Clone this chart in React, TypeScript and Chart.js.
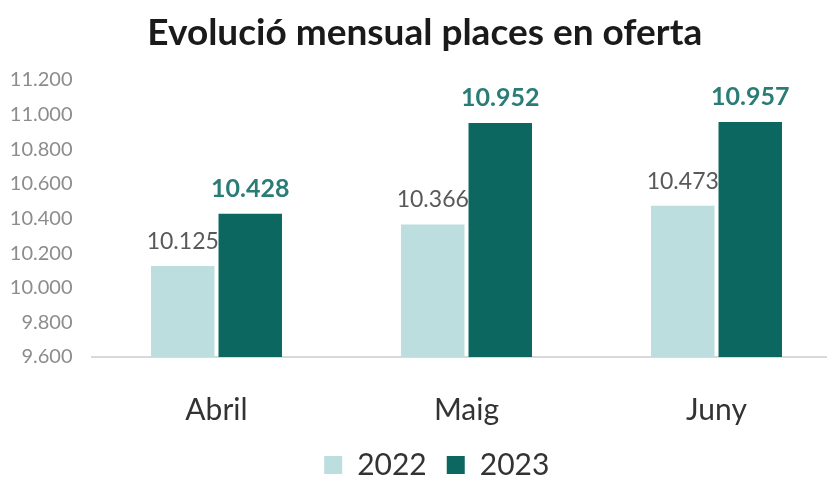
import React, { useEffect, useRef } from "react";
import { Chart, registerables } from "chart.js";

Chart.register(...registerables);

const TITLE = "Evolució mensual places en oferta";
const categories = ["Abril", "Maig", "Juny"];
const seriesNames = ["2022", "2023"];
const values2022 = [10125, 10366, 10473];
const values2023 = [10428, 10952, 10957];
const yMin = 9600;
const yMax = 11200;
const yStep = 200;

const COLOR_2022 = "#bcdedf";
const COLOR_2023 = "#0b675f";
const FONT = "Lato";

const fmt = (n: number) => Math.round(n).toString().replace(/\B(?=(\d{3})+(?!\d))/g, ".");

const dataLabels = {
  id: "dataLabels",
  afterDatasetsDraw(chart: any) {
    const ctx = chart.ctx;
    chart.data.datasets.forEach((ds: any, di: number) => {
      const meta = chart.getDatasetMeta(di);
      meta.data.forEach((bar: any, i: number) => {
        ctx.save();
        ctx.textAlign = "center";
        ctx.textBaseline = "alphabetic";
        if (di === 0) {
          ctx.font = `normal 23px ${FONT}`;
          ctx.fillStyle = "#595959";
        } else {
          ctx.font = `bold 25px ${FONT}`;
          ctx.fillStyle = "#2a7c76";
        }
        ctx.fillText(fmt(ds.data[i]), bar.x, bar.y - 17);
        ctx.restore();
      });
    });
  },
};

const shiftLegend = {
  id: "shiftLegend",
  afterLayout(chart: any) {
    const lg = chart.legend;
    if (lg) {
      lg.left += 12;
      lg.right += 12;
    }
  },
};

export default function App() {
  const ref = useRef<HTMLCanvasElement>(null);
  useEffect(() => {
    if (!ref.current) return;
    const chart = new Chart(ref.current, {
      type: "bar",
      data: {
        labels: categories,
        datasets: [
          {
            label: seriesNames[0],
            data: values2022,
            backgroundColor: COLOR_2022,
            categoryPercentage: 0.54,
            barPercentage: 0.94,
          },
          {
            label: seriesNames[1],
            data: values2023,
            backgroundColor: COLOR_2023,
            categoryPercentage: 0.54,
            barPercentage: 0.94,
          },
        ],
      },
      options: {
        animation: false,
        responsive: false,
        maintainAspectRatio: false,
        layout: { padding: { left: 8, right: 16.5, top: 0, bottom: -12 } },
        plugins: {
          title: {
            display: true,
            text: TITLE,
            color: "#1a1a1a",
            font: { family: FONT, size: 37, weight: "bold" },
            padding: { top: 11, bottom: 24.6 },
          },
          legend: {
            position: "bottom",
            labels: {
              color: "#333333",
              font: { family: FONT, size: 30 },
              boxWidth: 18,
              boxHeight: 18,
              padding: 20,
            },
          },
          tooltip: { enabled: false },
        },
        scales: {
          x: {
            grid: { display: false, drawTicks: false },
            border: { display: true, color: "#d9d9d9", width: 2 },
            ticks: {
              color: "#333333",
              font: { family: FONT, size: 30 },
              padding: 35,
            },
            afterFit: (s: any) => {
              s.height = 73;
            },
          },
          y: {
            min: yMin,
            max: yMax,
            grid: { display: false, drawTicks: false },
            border: { display: false },
            ticks: {
              stepSize: yStep,
              color: "#8c8c8c",
              font: { family: FONT, size: 20 },
              padding: 19,
              callback: (v: any) => fmt(Number(v)),
            },
            afterFit: (s: any) => {
              s.width = 83.5;
            },
          },
        },
      },
      plugins: [dataLabels, shiftLegend],
    });
    return () => chart.destroy();
  }, []);

  return (
    <div
      style={{
        position: "fixed",
        left: 0,
        top: 0,
        width: 827,
        height: 478,
        overflow: "hidden",
        background: "#ffffff",
      }}
    >
      <canvas ref={ref} width={858} height={478} style={{ display: "block" }} />
    </div>
  );
}
